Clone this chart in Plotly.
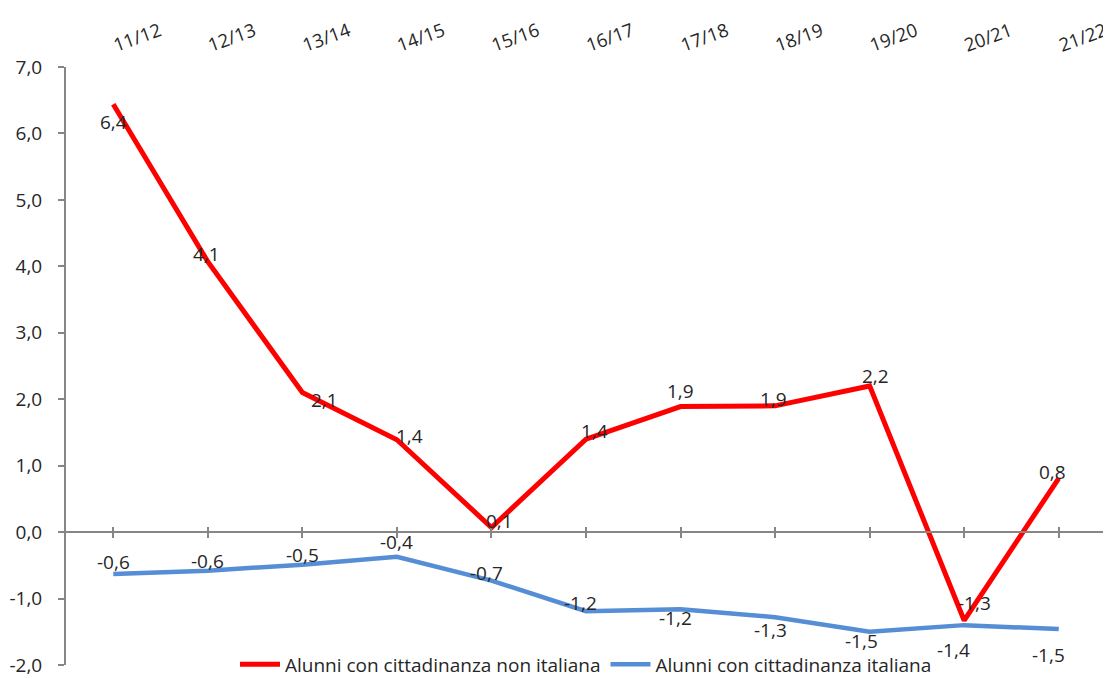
import plotly.graph_objects as go

periods = ["11/12", "12/13", "13/14", "14/15", "15/16", "16/17", "17/18", "18/19", "19/20", "20/21", "21/22"]
non_italiana = [6.44, 4.07, 2.10, 1.39, 0.07, 1.40, 1.89, 1.90, 2.20, -1.33, 0.81]
italiana = [-0.63, -0.58, -0.49, -0.37, -0.73, -1.19, -1.16, -1.28, -1.50, -1.40, -1.46]
name_non = "Alunni con cittadinanza non italiana"
name_ita = "Alunni con cittadinanza italiana"
y_ticks = [-2, -1, 0, 1, 2, 3, 4, 5, 6, 7]

# label offsets (pixels: dx right, dy down) as placed in the original chart
off_non = [(0, 18), (-1, -8), (22, 7), (13, -4), (8, -6), (8, -8), (0, -16), (-2, -7), (6, -10), (10, -17), (-6, -6)]
off_ita = [(0, -12), (0, -10), (0, -10), (0, -15), (-5, -8), (-6, -8), (-5, 9), (-5, 13), (-8, 9), (-11, 25), (-10, 26)]

RED = "#FF0000"
BLUE = "#558ED5"
AXIS = "#868686"
TXT = "#262626"
FONT = "Open Sans"


def fmt(v):
    return f"{v:.1f}".replace(".", ",")


idx = list(range(len(periods)))
ymin, ymax = min(y_ticks), max(y_ticks)

fig = go.Figure()
fig.add_trace(go.Scatter(x=idx, y=non_italiana, mode="lines", name=name_non,
                         line=dict(color=RED, width=5), hoverinfo="skip"))
fig.add_trace(go.Scatter(x=idx, y=italiana, mode="lines", name=name_ita,
                         line=dict(color=BLUE, width=4.5), hoverinfo="skip"))
# invisible helper traces so overlay axes are drawn
for ax in ("x2", "x3"):
    fig.add_trace(go.Scatter(x=idx, y=italiana, mode="lines", xaxis=ax, yaxis="y",
                             line=dict(color="rgba(0,0,0,0)"), showlegend=False, hoverinfo="skip"))

annotations = []
for vals, offs in ((non_italiana, off_non), (italiana, off_ita)):
    for i, (v, (dx, dy)) in enumerate(zip(vals, offs)):
        annotations.append(dict(x=i, y=v, xref="x", yref="y",
                                text=fmt(v), showarrow=False,
                                xshift=dx, yshift=-dy,
                                font=dict(family=FONT, size=19, color=TXT)))

xr = [-0.5, len(periods) - 0.5]
tick_pos = idx + [len(periods) - 0.5]
zero_pos = (0 - ymin) / (ymax - ymin)

fig.update_layout(
    width=1103, height=671,
    margin=dict(l=58, r=5, t=59, b=14, autoexpand=False),
    paper_bgcolor="white", plot_bgcolor="white",
    showlegend=True,
    legend=dict(orientation="h", x=0.5, xanchor="center", y=0.001, yanchor="middle",
                font=dict(family=FONT, size=19, color=TXT), bgcolor="rgba(0,0,0,0)",
                itemwidth=40, tracegroupgap=0),
    xaxis=dict(range=xr, anchor="free", position=zero_pos, showgrid=False, zeroline=False,
               showline=True, linecolor=AXIS, linewidth=2,
               tickmode="array", tickvals=tick_pos, ticks="outside", ticklen=5,
               tickcolor=AXIS, tickwidth=1.5, showticklabels=False),
    xaxis3=dict(range=xr, overlaying="x", anchor="free", position=zero_pos, showgrid=False,
                zeroline=False, showline=False,
                tickmode="array", tickvals=tick_pos, ticks="inside", ticklen=5,
                tickcolor=AXIS, tickwidth=1.5, showticklabels=False),
    xaxis2=dict(range=xr, overlaying="x", side="top", anchor="y", showgrid=False,
                zeroline=False, showline=False,
                tickmode="array", tickvals=idx, ticktext=periods, tickangle=-20,
                ticks="outside", ticklen=6, tickcolor="rgba(0,0,0,0)",
                ticklabeloverflow="allow",
                tickfont=dict(family=FONT, size=18.5, color=TXT)),
    yaxis=dict(range=[ymin, ymax], tickmode="array", tickvals=y_ticks,
               ticktext=[fmt(t) for t in y_ticks], showgrid=False, zeroline=False,
               showline=True, linecolor=AXIS, linewidth=2,
               ticks="outside", ticklen=6, tickcolor=AXIS, tickwidth=1.5,
               ticklabelstandoff=12,
               tickfont=dict(family=FONT, size=19, color=TXT)),
    annotations=annotations,
)

fig.write_html("out.html")
